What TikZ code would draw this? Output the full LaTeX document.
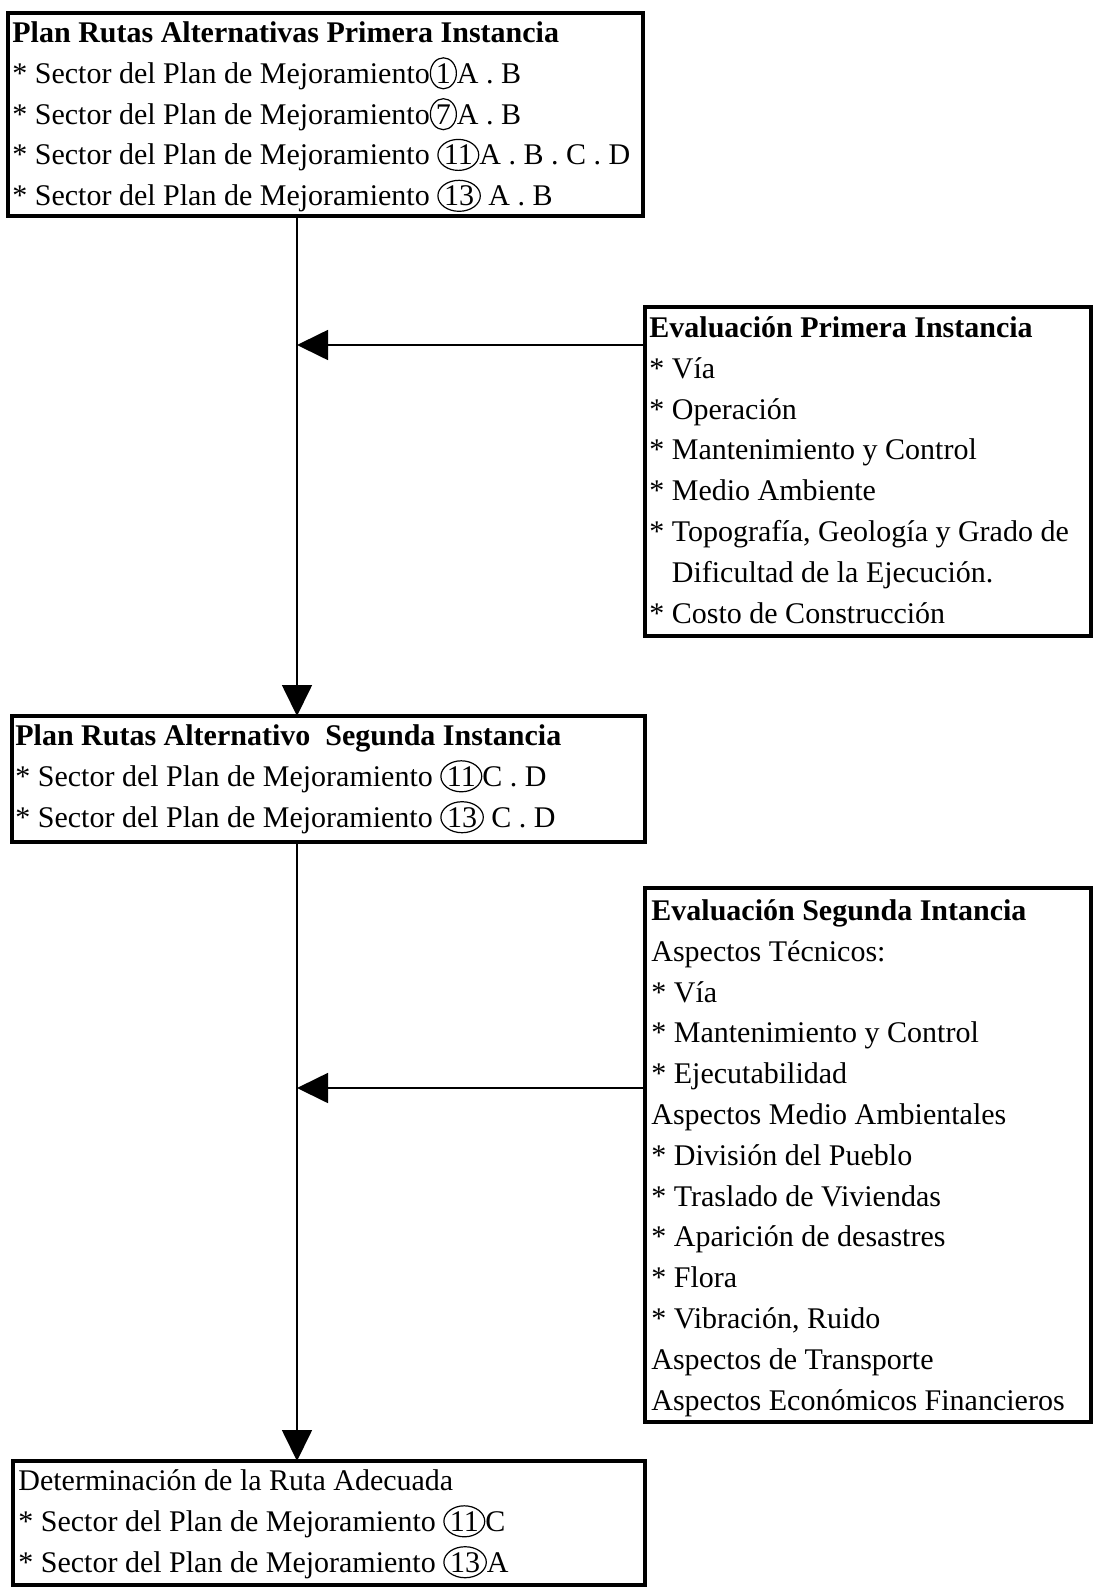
\documentclass[tikz,border=0pt]{standalone}
\usepackage{fontspec}
\setmainfont{Liberation Serif}
\usetikzlibrary{arrows.meta,shapes.geometric}
\newcommand{\cn}[1]{\tikz[baseline=(cc.base)]\node[draw,ellipse,line width=0.6pt,inner sep=0pt,minimum width=13pt,minimum height=15.5pt](cc){#1};}
\newcommand{\fl}{\rule{0pt}{14.5pt}}
\newcommand{\ind}{\hphantom{*\ }}
\begin{document}
\begin{tikzpicture}[x=0.5pt,y=-0.5pt,
  frame/.style={draw,line width=2pt,inner sep=0pt,outer sep=0pt,anchor=north west},
  txt/.style={anchor=north west,inner sep=0pt,align=left,font=\fontsize{15}{20.4}\selectfont},
  conn/.style={line width=0.85pt},
  arr/.style={conn,-{Triangle[length=15.5pt,width=15pt]}}]
\useasboundingbox (0,0) rectangle (1093,1590);
% boxes
\node[frame,minimum width=317.5pt,minimum height=101.5pt] (b1) at (8,13) {};
\node[frame,minimum width=316.5pt,minimum height=63pt] (b2) at (12,716) {};
\node[frame,minimum width=316pt,minimum height=62pt] (b3) at (13,1461) {};
\node[frame,minimum width=223pt,minimum height=164.5pt] (e1) at (645,307) {};
\node[frame,minimum width=223pt,minimum height=267pt] (e2) at (645,888) {};
% texts
\node[txt] (t1) at (12,13) {\fl\textbf{Plan Rutas Alternativas Primera Instancia}\\
* Sector del Plan de Mejoramiento\cn{1}A . B\\
* Sector del Plan de Mejoramiento\cn{7}A . B\\
* Sector del Plan de Mejoramiento \cn{11}A . B . C . D\\
* Sector del Plan de Mejoramiento \cn{13} A . B};
\node[txt] (t2) at (15,716) {\fl\textbf{Plan Rutas Alternativo\ \ Segunda Instancia}\\
* Sector del Plan de Mejoramiento \cn{11}C . D\\
* Sector del Plan de Mejoramiento \cn{13} C . D};
\node[txt] (t3) at (18,1461) {\fl Determinación de la Ruta Adecuada\\
* Sector del Plan de Mejoramiento \cn{11}C\\
* Sector del Plan de Mejoramiento \cn{13}A};
\node[txt] (te1) at (649,308) {\fl\textbf{Evaluación Primera Instancia}\\
* Vía\\
* Operación\\
* Mantenimiento y Control\\
* Medio Ambiente\\
* Topografía, Geología y Grado de\\
\ind Dificultad de la Ejecución.\\
* Costo de Construcción};
\node[txt] (te2) at (651,891) {\fl\textbf{Evaluación Segunda Intancia}\\
Aspectos Técnicos:\\
* Vía\\
* Mantenimiento y Control\\
* Ejecutabilidad\\
Aspectos Medio Ambientales\\
* División del Pueblo\\
* Traslado de Viviendas\\
* Aparición de desastres\\
* Flora\\
* Vibración, Ruido\\
Aspectos de Transporte\\
Aspectos Económicos Financieros};
% connectors
\coordinate (j1) at (297,345);
\coordinate (j2) at (297,1088);
\draw[arr] (j1 |- b1.south) -- (j1 |- b2.north);
\draw[arr] (j2 |- b2.south) -- (j2 |- b3.north);
\draw[arr] (e1.west |- j1) -- (j1);
\draw[arr] (e2.west |- j2) -- (j2);
\end{tikzpicture}
\end{document}
